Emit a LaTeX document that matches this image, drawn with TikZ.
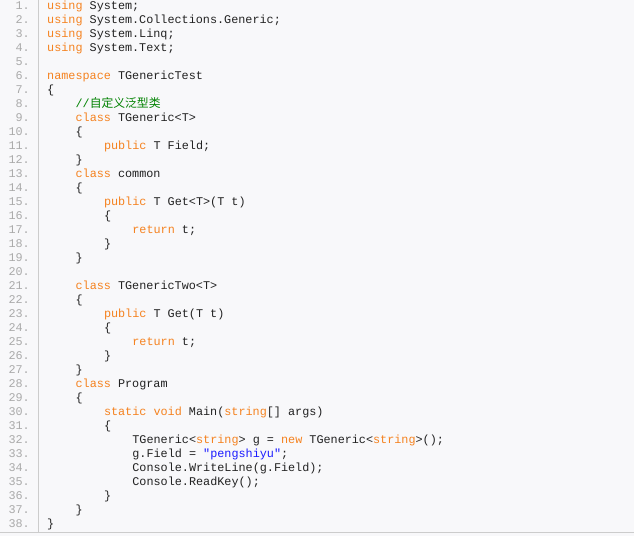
\documentclass[tikz,border=0pt]{standalone}
\usepackage{fontspec}
\setmonofont{Liberation Mono}
\newfontfamily\cjk{Noto Sans CJK SC}
\definecolor{bgc}{HTML}{F8F8FA}
\definecolor{kwc}{HTML}{F5821F}
\definecolor{cmc}{HTML}{008200}
\definecolor{stc}{HTML}{1A1AFF}
\definecolor{numc}{HTML}{AAAAAA}
\definecolor{txc}{HTML}{222222}
\newcommand\kw[1]{\textcolor{kwc}{#1}}
\newcommand\st[1]{\textcolor{stc}{#1}}
\newcommand\codeline[3]{%
  \node[num] (n#1) at (30,{529-14*(#1-1)}) {#1.};
  \node[code] (c#1) at ({47+7.1*#2},{529-14*(#1-1)}) {#3};}
\newcommand\numline[1]{\node[num] (n#1) at (30,{529-14*(#1-1)}) {#1.};}
\begin{document}
\begin{tikzpicture}[x=1pt,y=1pt,
  num/.style={anchor=east,inner sep=0,text height=8pt,text depth=2.5pt,font=\ttfamily\fontsize{11.8}{14}\selectfont,text=numc},
  code/.style={anchor=west,inner sep=0,text height=8pt,text depth=2.5pt,font=\ttfamily\fontsize{11.8}{14}\selectfont,text=txc}]
\fill[bgc] (0,0) rectangle (634,536);
\useasboundingbox (0,0) rectangle (634,536);
\draw[numc!60,line width=0.8pt] (38.5,536) -- (38.5,4);
\draw[numc!60,line width=0.8pt] (0,3.5) -- (634,3.5);
\codeline{1}{0}{\kw{using} System;}
\codeline{2}{0}{\kw{using} System.Collections.Generic;}
\codeline{3}{0}{\kw{using} System.Linq;}
\codeline{4}{0}{\kw{using} System.Text;}
\numline{5}
\codeline{6}{0}{\kw{namespace} TGenericTest}
\codeline{7}{0}{\{}
\codeline{8}{4}{\textcolor{cmc}{//{\cjk 自定义泛型类}}}
\codeline{9}{4}{\kw{class} TGeneric<T>}
\codeline{10}{4}{\{}
\codeline{11}{8}{\kw{public} T Field;}
\codeline{12}{4}{\}}
\codeline{13}{4}{\kw{class} common}
\codeline{14}{4}{\{}
\codeline{15}{8}{\kw{public} T Get<T>(T t)}
\codeline{16}{8}{\{}
\codeline{17}{12}{\kw{return} t;}
\codeline{18}{8}{\}}
\codeline{19}{4}{\}}
\numline{20}
\codeline{21}{4}{\kw{class} TGenericTwo<T>}
\codeline{22}{4}{\{}
\codeline{23}{8}{\kw{public} T Get(T t)}
\codeline{24}{8}{\{}
\codeline{25}{12}{\kw{return} t;}
\codeline{26}{8}{\}}
\codeline{27}{4}{\}}
\codeline{28}{4}{\kw{class} Program}
\codeline{29}{4}{\{}
\codeline{30}{8}{\kw{static} \kw{void} Main(\kw{string}[] args)}
\codeline{31}{8}{\{}
\codeline{32}{12}{TGeneric<\kw{string}> g = \kw{new} TGeneric<\kw{string}>();}
\codeline{33}{12}{g.Field = \st{"pengshiyu"};}
\codeline{34}{12}{Console.WriteLine(g.Field);}
\codeline{35}{12}{Console.ReadKey();}
\codeline{36}{8}{\}}
\codeline{37}{4}{\}}
\codeline{38}{0}{\}}
\end{tikzpicture}
\end{document}
